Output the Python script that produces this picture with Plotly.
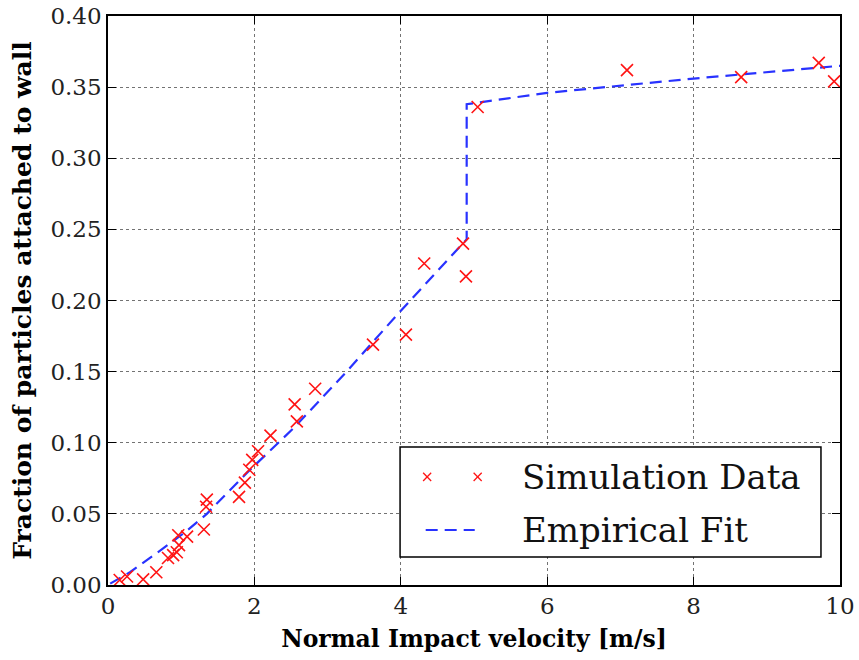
import plotly.graph_objects as go

# Simulation data
sim_x = [0.16, 0.26, 0.48, 0.66, 0.82, 0.89, 0.94, 0.96, 0.97, 1.08, 1.31, 1.34, 1.35,
         1.79, 1.87, 1.93, 1.97, 2.05, 2.22, 2.55, 2.58, 2.83, 3.62, 4.07, 4.32,
         4.85, 4.89, 5.05, 7.09, 8.65, 9.71, 9.92]
sim_y = [0.0035, 0.006, 0.004, 0.009, 0.019, 0.021, 0.023, 0.035, 0.028, 0.034, 0.039,
         0.055, 0.060, 0.062, 0.072, 0.081, 0.088, 0.094, 0.105, 0.127, 0.115, 0.138,
         0.169, 0.176, 0.226, 0.240, 0.217, 0.336, 0.362, 0.357, 0.367, 0.354]

# Empirical fit
fit_x = [0.03, 0.3, 0.68, 1.05, 1.35, 1.9, 2.53, 3.26, 3.95, 4.9, 4.9, 6.0, 8.0, 10.0]
fit_y = [0.001, 0.009, 0.023, 0.037, 0.050, 0.079, 0.110, 0.150, 0.190, 0.243,
         0.338, 0.346, 0.356, 0.365]

x_ticks = [0, 2, 4, 6, 8, 10]
y_ticks = [0.00, 0.05, 0.10, 0.15, 0.20, 0.25, 0.30, 0.35, 0.40]

legend_labels = ["Simulation Data", "Empirical Fit"]

RED = "rgb(255,20,20)"
BLUE = "rgb(40,50,255)"
SERIF = "DejaVu Serif"

fig = go.Figure()
fig.add_trace(go.Scatter(
    x=fit_x, y=fit_y, mode="lines", name=legend_labels[1],
    line=dict(color=BLUE, width=2.2, dash="12px,7px"),
))
fig.add_trace(go.Scatter(
    x=sim_x, y=sim_y, mode="markers", name=legend_labels[0],
    marker=dict(symbol="x-thin", size=12, color=RED, line=dict(color=RED, width=1.6)),
))

axis_common = dict(
    showline=True, linecolor="black", linewidth=1.5, mirror="ticks",
    ticks="inside", ticklen=8, tickwidth=1, tickcolor="black",
    showgrid=True, gridcolor="rgba(0,0,0,0.55)", griddash="dot", gridwidth=1,
    zeroline=False, automargin=False, ticklabeloverflow="allow",
    tickfont=dict(family=SERIF, size=23, color="#222"),
)

fig.update_xaxes(
    range=[0, 10], tickvals=x_ticks, ticktext=[str(v) for v in x_ticks],
    title=dict(text="<b>Normal Impact velocity [m/s]</b>",
               font=dict(family=SERIF, size=23.5, color="black"), standoff=12),
    **axis_common,
)
fig.update_yaxes(
    range=[0, 0.40], tickvals=y_ticks, ticktext=[f"{v:.2f}" for v in y_ticks],
    title=dict(text="<b>Fraction of particles attached to wall</b>",
               font=dict(family=SERIF, size=25, color="black"), standoff=12),
    **axis_common,
)

# Manual legend (matplotlib-style box with two marker samples)
shapes = [dict(type="rect", xref="paper", yref="paper", x0=0.399, x1=0.974,
               y0=0.049, y1=0.2425, line=dict(color="black", width=1.5),
               fillcolor="white", layer="above")]
dx, dy = 0.0055, 0.0072
for cx in (0.436, 0.505):
    cy = 0.19
    shapes.append(dict(type="line", xref="paper", yref="paper", x0=cx - dx, x1=cx + dx,
                       y0=cy - dy, y1=cy + dy, line=dict(color=RED, width=1.3), layer="above"))
    shapes.append(dict(type="line", xref="paper", yref="paper", x0=cx - dx, x1=cx + dx,
                       y0=cy + dy, y1=cy - dy, line=dict(color=RED, width=1.3), layer="above"))
shapes.append(dict(type="line", xref="paper", yref="paper", x0=0.434, x1=0.501,
                   y0=0.0967, y1=0.0967,
                   line=dict(color=BLUE, width=2.2, dash="12px,7px"), layer="above"))

annotations = [
    dict(text=legend_labels[0], xref="paper", yref="paper", x=0.563, y=0.19,
         xanchor="left", yanchor="middle", showarrow=False,
         font=dict(family=SERIF, size=34, color="#111")),
    dict(text=legend_labels[1], xref="paper", yref="paper", x=0.563, y=0.0967,
         xanchor="left", yanchor="middle", showarrow=False,
         font=dict(family=SERIF, size=34, color="#111")),
]

fig.update_layout(
    width=859, height=660,
    margin=dict(l=108, r=19, t=16, b=75),
    paper_bgcolor="white", plot_bgcolor="white",
    showlegend=False,
    shapes=shapes, annotations=annotations,
)

# Remove the page's default body margin so the figure fills the window exactly.
fig.write_html("out.html",
               config={"displayModeBar": False},
               post_script="document.body.style.margin='0';document.body.style.padding='0';")
